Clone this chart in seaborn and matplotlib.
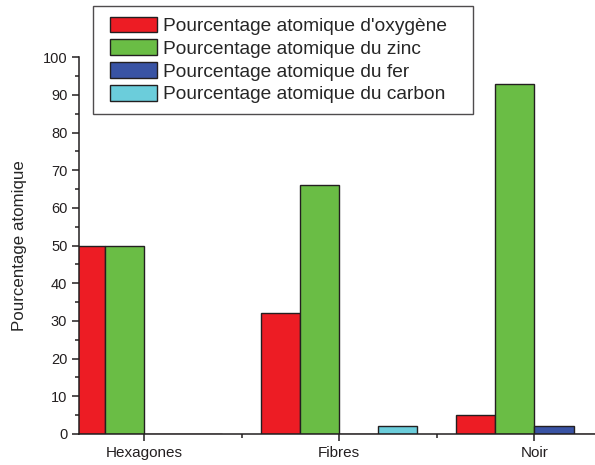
import pandas as pd
import seaborn as sns
import matplotlib.pyplot as plt
import matplotlib.patches as mpatches
from matplotlib.legend_handler import HandlerPatch
from matplotlib.ticker import MultipleLocator, FixedLocator

# --- données ---
CATEGORIES = ["Hexagones", "Fibres", "Noir"]
SERIES = [
    "Pourcentage atomique d'oxygène",
    "Pourcentage atomique du zinc",
    "Pourcentage atomique du fer",
    "Pourcentage atomique du carbon",
]
OXYGENE = [50, 32, 5]
ZINC = [50, 66, 93]
FER = [0, 0, 2]
CARBON = [0, 2, 0]
COLORS = ["#ED1C24", "#6ABD45", "#3953A4", "#6BCDDB"]

rows = []
for serie, vals in zip(SERIES, [OXYGENE, ZINC, FER, CARBON]):
    for cat, v in zip(CATEGORIES, vals):
        rows.append({"Echantillon": cat, "Element": serie, "Valeur": v})
df = pd.DataFrame(rows)

sns.set_theme(style="ticks")
plt.rcParams['font.family'] = ['Liberation Sans', 'DejaVu Sans']

fig = plt.figure(figsize=(5.95, 4.65), dpi=100)
ax = fig.add_axes([0.133, 0.0667, 0.867, 0.81])

sns.barplot(data=df, x="Echantillon", y="Valeur", hue="Element", order=CATEGORIES,
            hue_order=SERIES, palette=COLORS, saturation=1, width=0.8,
            edgecolor="#231F20", linewidth=1, errorbar=None, ax=ax)

ax.set_xlim(-0.333, 2.31)
ax.set_ylim(0, 100)
ax.yaxis.set_major_locator(MultipleLocator(10))
ax.yaxis.set_minor_locator(MultipleLocator(5))
ax.xaxis.set_minor_locator(FixedLocator([0.5, 1.5]))
ax.set_xlabel("")
ax.set_ylabel("Pourcentage atomique", fontsize=12.2, labelpad=11)
ax.tick_params(axis="both", which="major", direction="out", length=5, width=1.1,
               color="#231F20", labelsize=10.5, labelcolor="#231F20")
ax.tick_params(axis="x", which="major", labelsize=11)
ax.tick_params(axis="both", which="minor", direction="out", length=3, width=1.1,
               color="#231F20")
for side in ["top", "right"]:
    ax.spines[side].set_visible(False)
for side in ["left", "bottom"]:
    ax.spines[side].set_linewidth(1.1)
    ax.spines[side].set_color("#231F20")

# légende encadrée, style Origin
handles, labels = ax.get_legend_handles_labels()
ax.get_legend().remove()
leg = fig.legend(handles, labels, loc="upper left",
                 bbox_to_anchor=(93 / 595, 1 - 113 / 465, 380 / 595, 107 / 465),
                 mode="expand", borderaxespad=0, fontsize=13.8, frameon=True,
                 fancybox=False, shadow=False, handlelength=2.79, handleheight=0.9,
                 handletextpad=0.3, labelspacing=0.22, borderpad=0.55,
                 handler_map={mpatches.Rectangle: HandlerPatch(xpad=0.34)})
leg.get_frame().set_edgecolor("#231F20")
leg.get_frame().set_linewidth(1.0)

fig.savefig("out.png", dpi=100)
